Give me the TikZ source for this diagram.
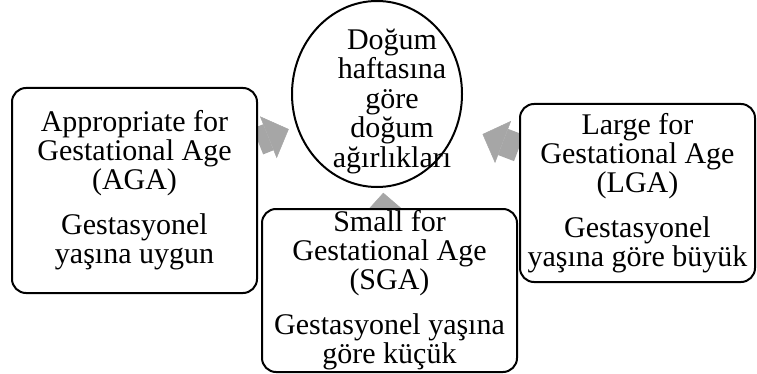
\documentclass[tikz,border=0pt]{standalone}
\usepackage{fontspec}
\setmainfont{Liberation Serif}
\usepackage{tikz}
\usetikzlibrary{arrows.meta,backgrounds,shapes.geometric}

\definecolor{arrowgray}{RGB}{166,166,166}

\begin{document}
\begin{tikzpicture}[x=1pt,y=1pt]
    \edef\sizecorner{14pt}
    \tikzstyle{wtbox}=[draw,line width=2pt,fill=white,rounded corners=\sizecorner,
    inner sep=0pt,align=center,font=\fontsize{30}{29}\selectfont]
    \tikzstyle{wtcirc}=[ellipse,draw,line width=2pt,fill=white,inner sep=0pt,
    minimum width=170pt,minimum height=186pt]
    \tikzstyle{wttext}=[inner sep=0pt,align=center,font=\fontsize{30}{29.5}\selectfont]
    \tikzstyle{wtarrow}=[draw=arrowgray,line width=28pt,
    -{Triangle[width=45pt,length=22pt,line width=0.5pt]}]

    \useasboundingbox (0,0) rectangle (757,-374);

    % centre: birth weight by gestational week
    \node [wtcirc] (wt) at (377,-94) {};
    \node [wttext] (wtlabel) at (392,-101) {Doğum\\haftasına\\göre\\doğum\\ağırlıkları};

    % the three groups
    \node [wtbox,minimum width=245pt,minimum height=205pt] (aga) at (134.5,-190.5)
        {Appropriate for\\Gestational Age\\(AGA)\\[16pt]Gestasyonel\\yaşına uygun};
    \node [wtbox,minimum width=255pt,minimum height=163pt] (sga) at (389.5,-290.5)
        {Small for\\Gestational Age\\(SGA)\\[16pt]Gestasyonel yaşına\\göre küçük};
    \node [wtbox,minimum width=235pt,minimum height=178pt] (lga) at (637.5,-193)
        {Large for\\Gestational Age\\(LGA)\\[16pt]Gestasyonel\\yaşına göre büyük};

    \begin{scope}[on background layer]
        \draw [wtarrow,shorten >=8pt] (aga) -- (wt);
        \draw [wtarrow,shorten >=5pt] (sga) -- (wt);
        \draw [wtarrow,shorten >=26pt] (lga) -- (wt);
    \end{scope}
\end{tikzpicture}
\end{document}
